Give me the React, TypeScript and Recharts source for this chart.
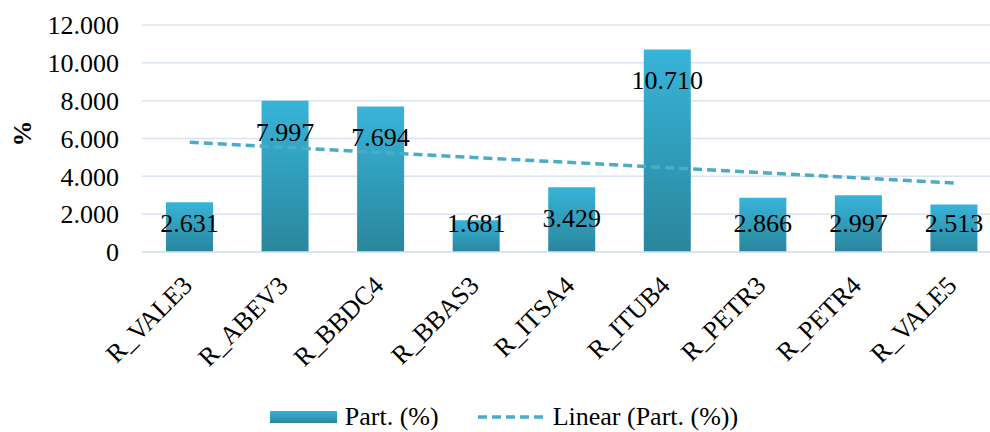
import React from "react";
import {
  BarChart,
  Bar,
  XAxis,
  YAxis,
  CartesianGrid,
  ReferenceLine,
  LabelList,
  Legend,
} from "recharts";

// values
const categories = [
  "R_VALE3",
  "R_ABEV3",
  "R_BBDC4",
  "R_BBAS3",
  "R_ITSA4",
  "R_ITUB4",
  "R_PETR3",
  "R_PETR4",
  "R_VALE5",
];
const partValues = [2.631, 7.997, 7.694, 1.681, 3.429, 10.71, 2.866, 2.997, 2.513];
// linear trend line, value at first and last category
const trendEnds = [5.8, 3.65];
const yTicks = [0, 2, 4, 6, 8, 10, 12];

const FONT = "'Liberation Serif', 'Times New Roman', serif";
const GRID = "#d9e3f1";
const TREND = "#4bacc6";
const BAR_TOP = "#37b4d9";
const BAR_BOTTOM = "#2a869c";

const data = categories.map((name, i) => ({ name, part: partValues[i] }));

const fmt = (v: number) => (v === 0 ? "0" : v.toFixed(3));

function XTick(props: any) {
  const { x, y, payload } = props;
  const tx = x + 4;
  const ty = y + 27;
  return (
    <text
      x={tx}
      y={ty}
      transform={`rotate(-45 ${tx} ${ty})`}
      textAnchor="end"
      fontFamily={FONT}
      fontSize={26}
      fill="#000"
    >
      {payload.value}
    </text>
  );
}

function BarValue(props: any) {
  const { x, y, width, height, value } = props;
  const base = Math.min(y + 40, y + height - 20);
  return (
    <text
      x={x + width / 2}
      y={base}
      textAnchor="middle"
      fontFamily={FONT}
      fontSize={26}
      fill="#000"
    >
      {fmt(value)}
    </text>
  );
}

function LegendBox() {
  return (
    <div
      style={{
        display: "flex",
        justifyContent: "center",
        alignItems: "center",
        height: 40,
        paddingTop: 10,
        paddingLeft: 6,
        boxSizing: "border-box",
        fontFamily: FONT,
        fontSize: 26,
        color: "#000",
      }}
    >
      <svg width={67} height={12} style={{ marginRight: 8 }}>
        <defs>
          <linearGradient id="legGrad" x1="0" y1="0" x2="0" y2="1">
            <stop offset="0%" stopColor={BAR_TOP} />
            <stop offset="100%" stopColor={BAR_BOTTOM} />
          </linearGradient>
        </defs>
        <rect x={0} y={0} width={67} height={12} fill="url(#legGrad)" />
      </svg>
      <span style={{ marginRight: 39 }}>Part. (%)</span>
      <svg width={68} height={12} style={{ marginRight: 7 }}>
        <line
          x1={0}
          y1={6}
          x2={68}
          y2={6}
          stroke={TREND}
          strokeWidth={3.5}
          strokeDasharray="9 5"
        />
      </svg>
      <span>Linear (Part. (%))</span>
    </div>
  );
}

export default function App() {
  return (
    <div
      style={{
        position: "fixed",
        left: 0,
        top: 0,
        width: 990,
        height: 432,
        overflow: "hidden",
        background: "#fff",
      }}
    >
      <BarChart
        width={1012}
        height={432}
        data={data}
        margin={{ top: 25, right: 10, left: 0, bottom: 0 }}
      >
        <defs>
          <linearGradient id="barGrad" x1="0" y1="0" x2="0" y2="1">
            <stop offset="0%" stopColor={BAR_TOP} />
            <stop offset="100%" stopColor={BAR_BOTTOM} />
          </linearGradient>
        </defs>
        <CartesianGrid vertical={false} stroke={GRID} strokeWidth={1.5} />
        <XAxis
          dataKey="name"
          height={140}
          interval={0}
          tickLine={false}
          axisLine={{ stroke: GRID, strokeWidth: 1.5 }}
          tick={<XTick />}
        />
        <YAxis
          width={142}
          domain={[0, 12]}
          ticks={yTicks}
          tickFormatter={fmt}
          tickLine={false}
          axisLine={false}
          tickMargin={17}
          tick={{ fontSize: 26, fontFamily: FONT, fill: "#000" }}
          label={{
            content: (p: any) => {
              const vb = p.viewBox;
              const cx = vb.x + 22;
              const cy = vb.y + vb.height / 2 - 5;
              return (
                <text
                  x={cx}
                  y={cy}
                  transform={`rotate(-90 ${cx} ${cy})`}
                  textAnchor="middle"
                  dominantBaseline="central"
                  fontFamily={FONT}
                  fontSize={26}
                  fontWeight="bold"
                  fill="#000"
                >
                  %
                </text>
              );
            },
          }}
        />
        <Bar
          dataKey="part"
          name="Part. (%)"
          fill="url(#barGrad)"
          barSize={47}
          isAnimationActive={false}
        >
          <LabelList dataKey="part" content={<BarValue />} />
        </Bar>
        <ReferenceLine
          segment={[
            { x: categories[0], y: trendEnds[0] },
            { x: categories[categories.length - 1], y: trendEnds[1] },
          ]}
          stroke={TREND}
          strokeWidth={3.5}
          strokeDasharray="9 5"
          ifOverflow="visible"
        />
        <Legend verticalAlign="bottom" height={40} content={<LegendBox />} />
      </BarChart>
    </div>
  );
}
